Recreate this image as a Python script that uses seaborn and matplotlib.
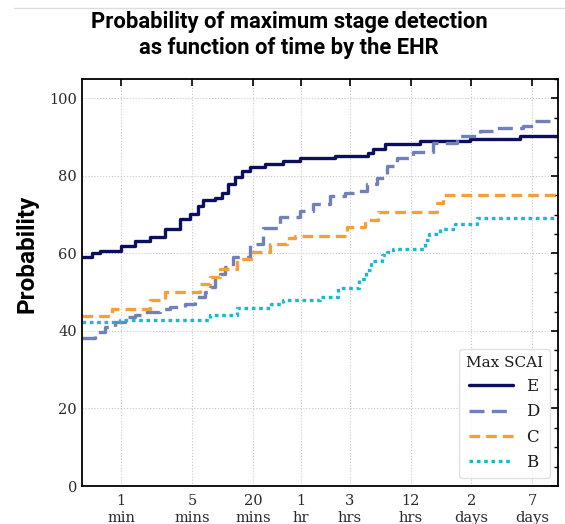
import numpy as np
import pandas as pd
import matplotlib
matplotlib.use("Agg")
import matplotlib.pyplot as plt
from matplotlib.lines import Line2D
from matplotlib.ticker import MultipleLocator
import seaborn as sns

# time in minutes since first record, probability in %
e_time = [0.41, 0.52, 0.62, 1.0, 1.37, 1.92, 2.7, 3.8, 4.77, 5.73, 6.4, 8.4, 9.9,
          11.3, 13.3, 15.6, 18.7, 26.3, 39.6, 58, 129, 274, 307, 403, 895, 2790,
          8700, 20600]
e_prob = [59.0, 60.0, 60.7, 62.0, 63.3, 64.3, 66.4, 69.0, 70.3, 72.3, 73.8, 74.3,
          75.7, 77.9, 79.6, 81.3, 82.3, 83.0, 83.9, 84.5, 85.2, 86.0, 86.9, 88.2,
          89.0, 89.5, 90.3, 90.3]

d_time = [0.41, 0.55, 0.69, 0.87, 1.09, 1.37, 1.72, 2.41, 3.03, 4.27, 5.4, 6.7,
          7.5, 8.4, 9.4, 10.6, 12.7, 18.7, 25, 37, 58, 78, 115, 163, 213, 268, 336,
          422, 531, 764, 1200, 2075, 3500, 4710, 9330, 11700, 20600]
d_prob = [38.3, 39.7, 41.0, 42.3, 43.6, 44.0, 44.8, 45.7, 46.1, 47.0, 48.7, 50.0,
          51.3, 53.8, 54.7, 56.4, 59.0, 62.4, 66.5, 69.3, 71.0, 72.7, 74.7, 75.5,
          76.2, 78.0, 79.5, 82.5, 84.5, 86.2, 88.6, 90.3, 91.6, 92.4, 92.9, 94.2,
          94.2]

c_time = [0.41, 0.81, 1.92, 2.7, 6.0, 7.5, 9.4, 13.9, 20, 29.5, 43, 52, 170, 256,
          344, 1320, 1510, 20600]
c_prob = [43.8, 45.7, 48.0, 50.0, 52.1, 54.0, 56.0, 58.6, 60.5, 62.4, 64.0, 64.6,
          66.7, 68.7, 70.8, 73.0, 75.0, 75.0]

b_time = [0.41, 0.97, 7.5, 13.9, 30, 40, 92, 140, 225, 260, 290, 380, 420, 480,
          1000, 1100, 1400, 2000, 3300, 20600]
b_prob = [42.3, 42.9, 44.0, 46.0, 47.0, 47.9, 48.7, 51.0, 53.5, 55.6, 58.0, 59.5,
          60.5, 61.1, 63.5, 65.0, 66.3, 67.6, 69.1, 69.1]

stages = ["E", "D", "C", "B"]
tick_minutes = [1, 5, 20, 60, 180, 720, 2880, 11520]
tick_labels = ["1\nmin", "5\nmins", "20\nmins", "1\nhr", "3\nhrs", "12\nhrs",
               "2\ndays", "7\ndays"]

frames = []
for stage, t, p in zip(stages, [e_time, d_time, c_time, b_time],
                       [e_prob, d_prob, c_prob, b_prob]):
    frames.append(pd.DataFrame({"time": t, "prob": p, "Max SCAI": stage}))
df = pd.concat(frames, ignore_index=True)

palette = {"E": "#0c0f5e", "D": "#7080b8", "C": "#f4a03a", "B": "#1ab8d2"}
dashes = {"E": "", "D": (4.5, 2.2), "C": (3.2, 1.8), "B": (1.1, 1.1)}

sns.set_style("white")
plt.rcParams["font.family"] = ["DejaVu Serif"]

fig = plt.figure(figsize=(5.65, 5.24), dpi=100)
ax = fig.add_axes([0.1451, 0.0725, 0.8425, 0.7767])

sns.lineplot(data=df, x="time", y="prob", hue="Max SCAI", style="Max SCAI",
             hue_order=stages, style_order=stages, palette=palette, dashes=dashes,
             drawstyle="steps-post", linewidth=2.4, ax=ax, estimator=None,
             sort=False)

ax.set_xscale("log")
ax.set_xlim(0.41, 20600)
ax.set_ylim(0, 105)
ax.set_xticks(tick_minutes)
ax.set_xticklabels(tick_labels)
ax.xaxis.set_minor_locator(plt.NullLocator())
ax.yaxis.set_major_locator(MultipleLocator(20))
ax.yaxis.set_minor_locator(MultipleLocator(5))
ax.tick_params(axis="both", which="both", direction="in", top=True, right=True,
               labelsize=10.5, labelcolor="#2b2b2b")
ax.tick_params(which="major", length=5, width=1.2, color="black")
ax.tick_params(which="minor", length=2.8, width=1.0, color="black")
ax.tick_params(axis="x", pad=6)
ax.grid(True, which="major", linestyle=":", color="#c8c8c8", linewidth=0.8)
for sp in ax.spines.values():
    sp.set_color("black")
    sp.set_linewidth(1.3)

ax.set_xlabel("")
ax.set_ylabel("")
fig.text(27 / 565, 0.515, "Probability", rotation=90, ha="center", va="center",
         fontsize=17.5, fontweight="bold", color="black", family=["Roboto"])

fig.text(0.512, 1 - 11 / 524,
         "Probability of maximum stage detection\nas function of time by the EHR",
         ha="center", va="top", fontsize=15.8, fontweight="bold", color="black",
         family=["Roboto"], linespacing=1.25)

fig.add_artist(Line2D([14 / 565, 1.0], [1 - 7.5 / 524, 1 - 7.5 / 524],
                      color="#dcdcdc", linewidth=1.0))

handles, labels = ax.get_legend_handles_labels()
leg = ax.legend(handles, labels, title="Max SCAI", loc="lower right",
                fontsize=12, title_fontsize=11, handlelength=2.6,
                borderaxespad=0.5, frameon=True, fancybox=True)
leg.get_frame().set_edgecolor("#d9d9d9")
for txt in leg.get_texts():
    txt.set_color("#1a1a1a")
leg.get_title().set_color("#1a1a1a")

fig.savefig("out.png", dpi=100)
